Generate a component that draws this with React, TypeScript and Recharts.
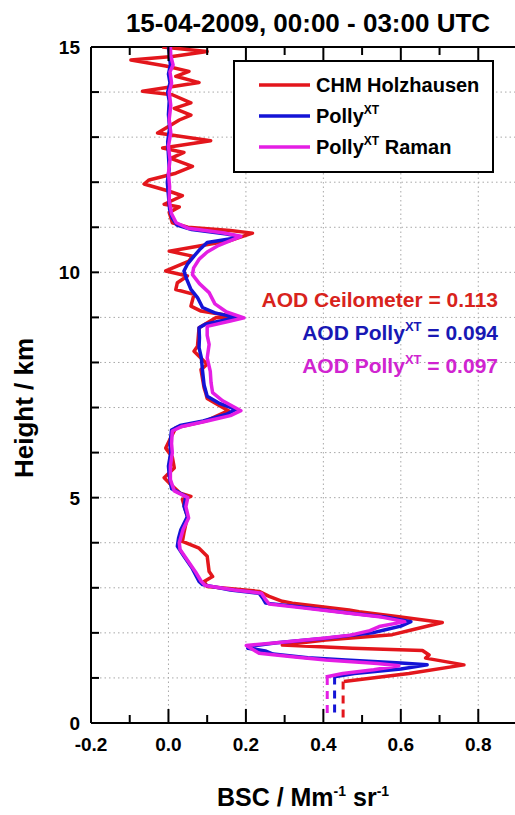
import React from 'react';
import { ScatterChart, Scatter, XAxis, YAxis, CartesianGrid, ReferenceLine } from 'recharts';

// [height km, BSC Mm^-1 sr^-1]
const chmProfile: [number, number][] = [
  [15.0, -0.016], [14.9, 0.1], [14.79, 0.01], [14.71, -0.097], [14.58, -0.007], [14.46, 0.053],
  [14.35, 0.019], [14.21, 0.079], [14.02, -0.067], [13.94, 0.01], [13.76, 0.058], [13.64, 0.015],
  [13.49, 0.058], [13.38, 0.028], [13.09, -0.028], [12.92, 0.109], [12.76, -0.015], [12.66, 0.04],
  [12.53, 0.006], [12.35, 0.062], [12.2, 0.019], [12.05, -0.05], [11.96, -0.063], [11.81, -0.002],
  [11.7, 0.036], [11.51, -0.011], [11.45, 0.028], [11.33, 0.002], [11.1, 0.01], [11.0, 0.05],
  [10.93, 0.16], [10.87, 0.217], [10.7, 0.157], [10.47, 0.002], [10.36, 0.062], [10.25, 0.053],
  [10.03, -0.007], [9.92, 0.049], [9.77, 0.023], [9.62, 0.019], [9.51, 0.066], [9.25, 0.058],
  [9.14, 0.084], [9.05, 0.15], [9.02, 0.177], [8.99, 0.122], [8.77, 0.079], [8.36, 0.075],
  [8.25, 0.066], [7.96, 0.1], [7.84, 0.084], [7.44, 0.092], [7.33, 0.096], [7.2, 0.1],
  [7.05, 0.13], [6.93, 0.155], [6.7, 0.096], [6.55, 0.019], [6.4, 0.01], [6.1, -0.007],
  [5.9, 0.01], [5.66, 0.015], [5.44, -0.011], [5.29, 0.006], [5.1, 0.03], [5.03, 0.058],
  [4.96, 0.036], [4.58, 0.049], [4.22, 0.04], [4.03, 0.036], [3.88, 0.079], [3.7, 0.1],
  [3.36, 0.105], [3.25, 0.114], [3.14, 0.092], [3.03, 0.1], [2.92, 0.234], [2.81, 0.26],
  [2.7, 0.294], [2.66, 0.32], [2.51, 0.466], [2.47, 0.492], [2.36, 0.595], [2.23, 0.707],
  [2.07, 0.63], [1.96, 0.578], [1.84, 0.406], [1.73, 0.294], [1.66, 0.475], [1.61, 0.656],
  [1.51, 0.673], [1.44, 0.664], [1.29, 0.763], [1.1, 0.621], [0.92, 0.453],
];
const chmNearGround: [number, number][] = [[0.92, 0.451], [0.12, 0.451]];

const pollyProfile: [number, number][] = [
  [15.0, 0.0], [14.8, 0.003], [14.6, 0.005], [14.4, 0.0], [14.2, 0.004], [14.0, -0.002],
  [13.8, 0.002], [13.5, 0.0], [13.2, 0.003], [12.9, -0.002], [12.6, 0.0], [12.3, 0.002],
  [12.0, -0.003], [11.7, 0.0], [11.4, 0.003], [11.2, 0.01], [11.05, 0.022], [10.95, 0.06],
  [10.85, 0.15], [10.8, 0.18], [10.75, 0.165], [10.66, 0.1], [10.5, 0.08], [10.36, 0.066],
  [10.18, 0.049], [10.03, 0.04], [9.85, 0.047], [9.62, 0.058], [9.44, 0.075], [9.22, 0.088],
  [9.1, 0.12], [9.0, 0.174], [8.93, 0.14], [8.85, 0.095], [8.77, 0.079], [8.55, 0.08],
  [8.33, 0.079], [8.1, 0.085], [7.81, 0.088], [7.5, 0.092], [7.25, 0.1], [7.1, 0.13],
  [6.96, 0.174], [6.85, 0.15], [6.7, 0.09], [6.6, 0.03], [6.5, 0.008], [6.2, 0.004],
  [6.0, 0.006], [5.7, 0.0], [5.5, 0.002], [5.2, 0.008], [5.03, 0.045], [4.81, 0.04],
  [4.58, 0.049], [4.29, 0.032], [4.1, 0.026], [3.92, 0.023], [3.7, 0.04], [3.45, 0.06],
  [3.14, 0.079], [3.07, 0.088], [2.95, 0.16], [2.88, 0.234], [2.75, 0.245], [2.66, 0.251],
  [2.58, 0.337], [2.44, 0.466], [2.35, 0.56], [2.25, 0.626], [2.15, 0.6], [2.07, 0.56],
  [2.0, 0.527], [1.88, 0.406], [1.78, 0.28], [1.7, 0.208], [1.66, 0.205], [1.6, 0.25],
  [1.53, 0.27], [1.45, 0.36], [1.4, 0.458], [1.33, 0.6], [1.29, 0.668], [1.2, 0.6],
  [1.1, 0.48], [1.03, 0.432],
];
const pollyNearGround: [number, number][] = [[1.03, 0.429], [0.15, 0.429]];

const ramanProfile: [number, number][] = [
  [15.0, 0.005], [14.8, 0.006], [14.6, 0.012], [14.45, 0.004], [14.2, 0.008], [14.0, 0.002],
  [13.7, 0.006], [13.4, 0.002], [13.1, 0.006], [12.8, 0.0], [12.5, 0.004], [12.2, 0.0],
  [11.9, 0.003], [11.6, 0.002], [11.3, 0.008], [11.1, 0.02], [10.98, 0.05], [10.88, 0.14],
  [10.8, 0.187], [10.72, 0.165], [10.6, 0.13], [10.45, 0.1], [10.3, 0.08], [10.1, 0.065],
  [9.95, 0.062], [9.75, 0.08], [9.55, 0.105], [9.3, 0.12], [9.12, 0.15], [8.99, 0.195],
  [8.92, 0.16], [8.8, 0.1], [8.6, 0.1], [8.4, 0.105], [8.1, 0.1], [7.8, 0.108],
  [7.55, 0.11], [7.33, 0.114], [7.15, 0.14], [6.93, 0.187], [6.82, 0.16], [6.7, 0.1],
  [6.58, 0.035], [6.48, 0.01], [6.2, 0.008], [6.0, 0.01], [5.7, 0.005], [5.4, 0.005],
  [5.15, 0.015], [5.0, 0.05], [4.8, 0.045], [4.55, 0.052], [4.3, 0.038], [4.0, 0.028],
  [3.85, 0.03], [3.6, 0.05], [3.35, 0.07], [3.14, 0.085], [3.05, 0.095], [2.95, 0.17],
  [2.88, 0.24], [2.75, 0.25], [2.64, 0.26], [2.56, 0.34], [2.45, 0.45], [2.35, 0.55],
  [2.25, 0.61], [2.14, 0.544], [2.05, 0.52], [1.95, 0.47], [1.88, 0.4], [1.78, 0.28],
  [1.72, 0.201], [1.62, 0.22], [1.55, 0.234], [1.47, 0.32], [1.4, 0.406], [1.32, 0.54],
  [1.27, 0.595], [1.18, 0.53], [1.1, 0.45], [1.02, 0.406],
];
const ramanNearGround: [number, number][] = [[1.02, 0.41], [0.15, 0.41]];

const xTicks = [-0.2, -0.1, 0, 0.1, 0.2, 0.3, 0.4, 0.5, 0.6, 0.7, 0.8, 0.9];
const xLabelTicks = [-0.2, 0, 0.2, 0.4, 0.6, 0.8];
const yTicks = [0, 1, 2, 3, 4, 5, 6, 7, 8, 9, 10, 11, 12, 13, 14, 15];
const yLabelTicks = [0, 5, 10, 15];
const xGridValues = [0, 0.2, 0.4, 0.6, 0.8];
const yGridValues = [1, 2, 3, 4, 5, 6, 7, 8, 9, 10, 11, 12, 13, 14];

const seriesNames = ['CHM Holzhausen', 'Polly', 'Polly'];
const aodValues = ['0.113', '0.094', '0.097'];

const RED = '#e3161c';
const BLUE = '#1414d6';
const MAGENTA = '#e41ee4';
const FONT = '"Liberation Sans", Arial, sans-serif';

const M = { top: 47, right: 3, bottom: 52, left: 51 };
const PLOT_TOP = M.top;

const toPoints = (p: [number, number][]) => p.map(([h, v]) => ({ x: v, y: h }));
const isIn = (arr: number[], v: number) => arr.some((t) => Math.abs(t - v) < 1e-6);
const Empty = () => <g />;

const XTick = (props: any) => {
  const { x, y, payload } = props;
  const v = payload.value as number;
  const major = isIn(xLabelTicks, v);
  const len = major ? 14 : 8;
  return (
    <g>
      <line x1={x} x2={x} y1={y} y2={y - len} stroke="#000" strokeWidth={2} />
      <line x1={x} x2={x} y1={PLOT_TOP} y2={PLOT_TOP + len} stroke="#000" strokeWidth={2} />
      {major && (
        <text x={x} y={y + 28} textAnchor="middle" fontFamily={FONT} fontWeight="bold" fontSize={19} fill="#000">
          {v.toFixed(1)}
        </text>
      )}
    </g>
  );
};

const YTick = (props: any) => {
  const { x, y, payload } = props;
  const h = payload.value as number;
  return (
    <g>
      <line x1={x} x2={x + 8} y1={y} y2={y} stroke="#000" strokeWidth={2} />
      {isIn(yLabelTicks, h) && (
        <text x={x - 11} y={y} dy="0.36em" textAnchor="end" fontFamily={FONT} fontWeight="bold" fontSize={19} fill="#000">
          {h}
        </text>
      )}
    </g>
  );
};

const lineStyle = (color: string, dashed = false) => ({
  stroke: color,
  strokeWidth: 3.5,
  strokeLinejoin: 'round' as const,
  strokeLinecap: 'butt' as const,
  ...(dashed ? { strokeDasharray: '8 6', strokeWidth: 3 } : {}),
});

const Overlay = () => {
  const t = { fontFamily: FONT, fontWeight: 'bold' as const };
  const legendRows = [
    { color: RED, y: 85 },
    { color: BLUE, y: 116 },
    { color: MAGENTA, y: 147 },
  ];
  return (
    <svg width={515} height={815} style={{ position: 'absolute', left: 0, top: 0, pointerEvents: 'none' }}>
      <text x={308} y={32} textAnchor="middle" {...t} fontSize={26} fill="#000">
        15-04-2009, 00:00 - 03:00 UTC
      </text>
      <text transform="translate(33,408) rotate(-90)" textAnchor="middle" {...t} fontSize={26} fill="#000">
        Height / km
      </text>
      <text x={303} y={806} textAnchor="middle" {...t} fontSize={25} fill="#000">
        BSC / Mm<tspan dy={-10} fontSize={14}>-1</tspan>
        <tspan dy={10}> sr</tspan>
        <tspan dy={-10} fontSize={14}>-1</tspan>
      </text>
      <rect x={234} y={61} width={259} height={111} fill="#fff" stroke="#000" strokeWidth={2} />
      {legendRows.map((r, i) => (
        <g key={i}>
          <line x1={259} x2={310} y1={r.y} y2={r.y} stroke={r.color} strokeWidth={3.5} />
          <text x={316} y={r.y + 7} {...t} fontSize={20} fill="#000">
            {seriesNames[i]}
            {i > 0 && <tspan dy={-9} fontSize={12}>XT</tspan>}
            {i === 2 && <tspan dy={9}> Raman</tspan>}
          </text>
        </g>
      ))}
      <text x={498} y={307} textAnchor="end" {...t} fontSize={21} fill="#d8231c">
        AOD Ceilometer = {aodValues[0]}
      </text>
      <text x={498} y={340} textAnchor="end" {...t} fontSize={21} fill="#1818b4">
        AOD Polly<tspan dy={-9} fontSize={13}>XT</tspan>
        <tspan dy={9}> = {aodValues[1]}</tspan>
      </text>
      <text x={498} y={373} textAnchor="end" {...t} fontSize={21} fill="#d024d0">
        AOD Polly<tspan dy={-9} fontSize={13}>XT</tspan>
        <tspan dy={9}> = {aodValues[2]}</tspan>
      </text>
    </svg>
  );
};

export default function App() {
  return (
    <div style={{ position: 'absolute', left: 0, top: 0, width: 515, height: 815, overflow: 'hidden', background: '#fff' }}>
      <ScatterChart width={520} height={815} margin={M}>
        <CartesianGrid
          horizontalValues={yGridValues}
          verticalValues={xGridValues}
          stroke="#a8a8a8"
          strokeWidth={1}
          strokeDasharray="1.5 3"
        />
        <XAxis
          type="number"
          dataKey="x"
          domain={[-0.2, 0.9]}
          allowDataOverflow
          ticks={xTicks}
          interval={0}
          tickSize={0}
          tickMargin={0}
          height={40}
          tickLine={false}
          axisLine={{ stroke: '#000', strokeWidth: 2 }}
          tick={(p: any) => <XTick {...p} />}
        />
        <YAxis
          type="number"
          dataKey="y"
          domain={[0, 15]}
          allowDataOverflow
          ticks={yTicks}
          interval={0}
          tickSize={0}
          tickMargin={0}
          width={40}
          tickLine={false}
          axisLine={{ stroke: '#000', strokeWidth: 2 }}
          tick={(p: any) => <YTick {...p} />}
        />
        <ReferenceLine y={15} stroke="#000" strokeWidth={2} />
        <Scatter data={toPoints(chmProfile)} fill={RED} line={lineStyle(RED)} shape={Empty} isAnimationActive={false} />
        <Scatter data={toPoints(chmNearGround)} fill={RED} line={lineStyle(RED, true)} shape={Empty} isAnimationActive={false} />
        <Scatter data={toPoints(pollyProfile)} fill={BLUE} line={lineStyle(BLUE)} shape={Empty} isAnimationActive={false} />
        <Scatter data={toPoints(pollyNearGround)} fill={BLUE} line={lineStyle(BLUE, true)} shape={Empty} isAnimationActive={false} />
        <Scatter data={toPoints(ramanProfile)} fill={MAGENTA} line={lineStyle(MAGENTA)} shape={Empty} isAnimationActive={false} />
        <Scatter data={toPoints(ramanNearGround)} fill={MAGENTA} line={lineStyle(MAGENTA, true)} shape={Empty} isAnimationActive={false} />
      </ScatterChart>
      <Overlay />
    </div>
  );
}
